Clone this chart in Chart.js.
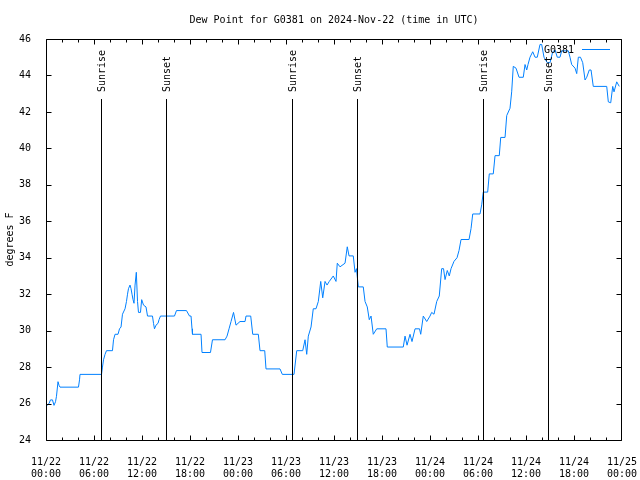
<!DOCTYPE html>
<html>
<head>
<meta charset="utf-8">
<script src="https://cdn.jsdelivr.net/npm/chart.js@4/dist/chart.umd.min.js"></script>
<style>
  html, body { margin: 0; padding: 0; background: #fff; }
  #wrap { width: 640px; height: 480px; }
</style>
</head>
<body>
<div id="wrap"><canvas id="dewChart" width="640" height="480"></canvas></div>
<script>
// ─── Data: hours since 2024-11-22 00:00 UTC / dew point (°F) ───
const obsHours = [
  0.13, 0.38, 0.56, 0.81, 1.00, 1.19, 1.31, 1.50, 1.63, 1.75,
  4.06, 4.19, 4.25, 6.94, 7.06, 7.19, 7.38, 7.56, 8.31, 8.44,
  8.63, 9.00, 9.19, 9.38, 9.56, 9.88, 10.06, 10.19, 10.31, 10.50,
  10.63, 10.75, 10.88, 11.00, 11.13, 11.29, 11.44, 11.56, 11.81, 11.96,
  12.19, 12.50, 12.69, 13.31, 13.44, 13.56, 13.75, 14.00, 14.13, 14.31,
  16.06, 16.31, 17.56, 17.94, 18.13, 18.25, 18.31, 19.38, 19.50, 20.56,
  20.81, 22.38, 22.63, 22.88, 23.13, 23.44, 23.75, 24.00, 24.25, 24.88,
  25.00, 25.59, 25.84, 26.54, 26.75, 27.34, 27.50, 29.25, 29.54, 31.00,
  31.34, 32.09, 32.38, 32.59, 32.79, 33.13, 33.41, 33.75, 34.04, 34.34,
  34.59, 34.88, 35.13, 35.41, 35.91, 36.25, 36.41, 36.75, 37.38, 37.66,
  37.88, 38.41, 38.63, 38.81, 39.04, 39.66, 39.88, 40.16, 40.41, 40.63,
  40.91, 41.34, 42.50, 42.66, 44.66, 44.88, 45.13, 45.50, 45.75, 46.13,
  46.69, 46.84, 47.16, 47.59, 48.00, 48.21, 48.50, 48.84, 49.16, 49.46,
  49.69, 49.88, 50.16, 50.41, 50.63, 51.00, 51.38, 51.63, 51.88, 52.88,
  53.13, 53.34, 54.25, 54.46, 54.66, 55.21, 55.41, 55.91, 56.13, 56.66,
  56.84, 57.38, 57.59, 58.00, 58.21, 58.41, 58.75, 59.13, 59.66, 59.88,
  60.09, 60.25, 60.50, 60.84, 61.13, 61.41, 61.75, 61.96, 62.25, 62.66,
  63.00, 63.34, 63.63, 63.91, 64.25, 64.46, 65.29, 65.50, 65.71, 66.13,
  66.34, 66.54, 66.81, 67.09, 67.38, 67.59, 67.91, 68.13, 68.41, 70.09,
  70.29, 70.59, 70.84, 71.00, 71.34, 71.66
];
const dewPointF = [
  25.9, 26.0, 26.2, 26.2, 25.9, 26.1, 26.4, 27.2, 27.0, 26.9,
  26.9, 27.3, 27.6, 27.6, 28.0, 28.4, 28.7, 28.9, 28.9, 29.5,
  29.8, 29.8, 30.1, 30.2, 30.9, 31.2, 31.6, 32.0, 32.3, 32.5,
  32.3, 32.0, 31.7, 31.5, 32.5, 33.2, 31.6, 31.0, 31.0, 31.7,
  31.4, 31.3, 30.8, 30.8, 30.4, 30.1, 30.3, 30.4, 30.6, 30.8,
  30.8, 31.1, 31.1, 30.8, 30.8, 30.1, 29.8, 29.8, 28.8, 28.8,
  29.5, 29.5, 29.7, 30.1, 30.5, 31.0, 30.3, 30.4, 30.5, 30.5,
  30.8, 30.8, 29.8, 29.8, 28.9, 28.9, 27.9, 27.9, 27.6, 27.6,
  28.9, 28.9, 29.5, 28.7, 29.7, 30.2, 31.2, 31.2, 31.6, 32.7,
  31.8, 32.7, 32.5, 32.7, 33.0, 32.7, 33.7, 33.5, 33.7, 34.6,
  34.1, 34.1, 33.2, 33.4, 32.4, 32.4, 31.6, 31.3, 30.6, 30.8,
  29.8, 30.1, 30.1, 29.1, 29.1, 29.7, 29.2, 29.8, 29.4, 30.1,
  30.1, 29.8, 30.8, 30.5, 30.8, 31.0, 30.9, 31.6, 31.9, 33.4,
  33.4, 32.8, 33.3, 33.0, 33.4, 33.8, 34.0, 34.4, 35.0, 35.0,
  35.6, 36.4, 36.4, 36.9, 37.6, 37.6, 38.6, 38.6, 39.6, 39.6,
  40.6, 40.6, 41.8, 42.2, 43.1, 44.5, 44.4, 43.9, 43.9, 44.6,
  44.3, 44.6, 45.0, 45.3, 45.0, 45.0, 45.7, 45.7, 45.0, 44.7,
  44.7, 45.3, 45.4, 45.0, 45.0, 45.35, 45.35, 45.0, 44.6, 44.4,
  44.1, 45.0, 45.0, 44.7, 43.75, 43.9, 44.3, 44.3, 43.4, 43.4,
  42.55, 42.5, 43.4, 43.1, 43.65, 43.4
];

const eventHours  = [6.84, 14.96, 30.71, 38.91, 54.66, 62.79];
const eventLabels = ['Sunrise', 'Sunset', 'Sunrise', 'Sunset', 'Sunrise', 'Sunset'];

const xTickDates = ['11/22', '11/22', '11/22', '11/22', '11/23', '11/23', '11/23',
                    '11/23', '11/24', '11/24', '11/24', '11/24', '11/25'];
const xTickTimes = ['00:00', '06:00', '12:00', '18:00', '00:00', '06:00', '12:00',
                    '18:00', '00:00', '06:00', '12:00', '18:00', '00:00'];

const chartTitle  = 'Dew Point for G0381 on 2024-Nov-22 (time in UTC)';
const seriesName  = 'G0381';
const yAxisLabel  = 'degrees F';

const FONT      = 'DejaVu Sans Mono';
const LINE_BLUE = 'rgb(0,128,255)';

// ─── Frame, inward ticks, title, legend, sunrise/sunset markers ─
const gnuplotLook = {
  id: 'gnuplotLook',
  afterDatasetsDraw(chart) {
    const { ctx, chartArea: a, scales: { x, y } } = chart;
    ctx.save();
    ctx.strokeStyle = '#000';
    ctx.lineWidth = 1;
    ctx.beginPath();

    // sun events
    eventHours.forEach(h => {
      const px = Math.round(x.getPixelForValue(h)) + 0.5;
      ctx.moveTo(px, 99);
      ctx.lineTo(px, a.bottom);
    });

    // frame
    const L = a.left + 0.5, R = a.right - 0.5, T = a.top + 0.5, B = a.bottom + 0.5;
    ctx.moveTo(L, T); ctx.lineTo(R, T); ctx.lineTo(R, B); ctx.lineTo(L, B); ctx.closePath();

    // x ticks (major every 6h, minor every 2h), mirrored on top
    x.ticks.forEach(t => {
      let px = Math.round(x.getPixelForValue(t.value)) + 0.5;
      if (px > R) px = R;
      const len = t.value % 6 === 0 ? 5 : 3;
      ctx.moveTo(px, B); ctx.lineTo(px, B - len);
      ctx.moveTo(px, T); ctx.lineTo(px, T + len);
    });
    // y ticks, mirrored on right
    y.ticks.forEach(t => {
      const py = Math.round(y.getPixelForValue(t.value)) + 0.5;
      ctx.moveTo(L, py); ctx.lineTo(L + 5, py);
      ctx.moveTo(R, py); ctx.lineTo(R - 5, py);
    });
    ctx.stroke();

    ctx.fillStyle = '#000';
    ctx.font = `10px "${FONT}"`;

    // rotated sunrise / sunset labels
    eventHours.forEach((h, i) => {
      const px = Math.round(x.getPixelForValue(h)) + 0.5;
      ctx.save();
      ctx.translate(px + 1, 92);
      ctx.rotate(-Math.PI / 2);
      ctx.textAlign = 'left';
      ctx.textBaseline = 'middle';
      ctx.fillText(eventLabels[i], 0, 0);
      ctx.restore();
    });

    // title
    ctx.textAlign = 'center';
    ctx.textBaseline = 'middle';
    ctx.fillText(chartTitle, (a.left + a.right) / 2, 20);

    // key
    ctx.textAlign = 'left';
    ctx.fillText(seriesName, 544, 50);
    ctx.strokeStyle = LINE_BLUE;
    ctx.beginPath();
    ctx.moveTo(582, 49.5);
    ctx.lineTo(610, 49.5);
    ctx.stroke();

    ctx.restore();
  }
};

const ctx = document.getElementById('dewChart').getContext('2d');
new Chart(ctx, {
  type: 'line',
  data: {
    datasets: [{
      label: seriesName,
      data: obsHours.map((h, i) => ({ x: h, y: dewPointF[i] })),
      borderColor: LINE_BLUE,
      borderWidth: 1,
      pointRadius: 0,
      tension: 0,
      fill: false
    }]
  },
  options: {
    responsive: false,
    animation: false,
    layout: { padding: { top: 39, right: 18, left: 0, bottom: 0 } },
    plugins: { legend: { display: false }, tooltip: { enabled: false }, title: { display: false } },
    scales: {
      x: {
        type: 'linear',
        min: 0,
        max: 72,
        grid: { display: false },
        border: { display: false },
        afterFit: s => { s.height = 40; s.paddingLeft = 0; s.paddingRight = 0; },
        ticks: {
          stepSize: 2,
          autoSkip: false,
          maxRotation: 0,
          padding: 8,
          color: '#000',
          font: { family: FONT, size: 10, lineHeight: 1.2 },
          callback: v => v % 6 === 0 ? [xTickDates[v / 6], xTickTimes[v / 6]] : ''
        }
      },
      y: {
        min: 24,
        max: 46,
        grid: { display: false },
        border: { display: false },
        afterFit: s => { s.width = 46; s.paddingTop = 0; s.paddingBottom = 0; },
        title: {
          display: true,
          text: yAxisLabel,
          color: '#000',
          font: { family: FONT, size: 10 },
          padding: { top: 4, bottom: 0 }
        },
        ticks: {
          stepSize: 2,
          padding: 7,
          color: '#000',
          font: { family: FONT, size: 10 }
        }
      }
    }
  },
  plugins: [gnuplotLook]
});
</script>
</body>
</html>
